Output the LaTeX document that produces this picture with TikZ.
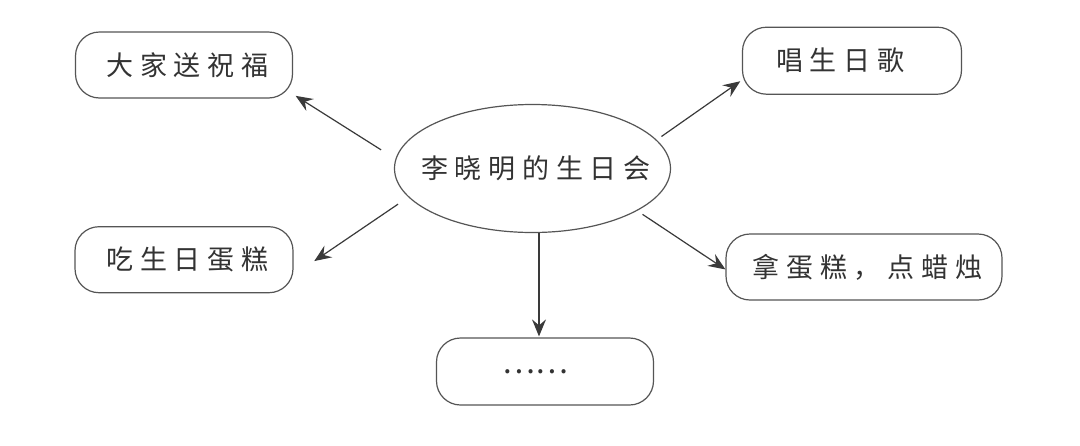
\documentclass[tikz,border=0pt]{standalone}
\usepackage{fontspec}
\newfontfamily\cjk[LetterSpace=25]{Noto Sans CJK SC}
\newfontfamily\cjkplain{Noto Sans CJK SC}
\usetikzlibrary{arrows.meta,shapes.geometric}
\definecolor{linegray}{HTML}{555555}
\definecolor{arrowgray}{HTML}{3A3A3A}
\definecolor{textgray}{HTML}{333333}
\newcommand{\lsp}[1]{\kern0.25em#1}
\begin{document}
\begin{tikzpicture}[x=1pt,y=-1pt,
  box/.style={draw=linegray, line width=1.2pt, rounded corners=24pt, inner sep=0pt,
    font=\cjk\fontsize{27}{27}\selectfont, text=textgray, minimum height=66pt},
  oval/.style={ellipse, draw=linegray, line width=1.2pt, inner xsep=-30pt, inner ysep=0pt,
    minimum width=276pt, minimum height=128pt,
    font=\cjk\fontsize{27}{27}\selectfont, text=textgray},
  conn/.style={draw=arrowgray, line width=1.2pt, -{Stealth[length=17pt,width=14pt,inset=6pt]}}]
\useasboundingbox[fill=white] (0,0) rectangle (1080,445);
\node[oval] (e) at (532.5,168.5) {\lsp{李晓明的生日会}};
\node[box, minimum width=217pt] (a) at (184,65) {\lsp{大家送祝福}};
\node[box, minimum width=219pt, minimum height=67pt] (b) at (852,60.7) {\lsp{唱生日歌}\kern30pt};
\node[box, minimum width=218pt] (c) at (184,259.7) {\lsp{吃生日蛋糕}};
\node[box, minimum width=276pt] (d) at (864,267) {\lsp{拿蛋糕，点蜡烛}};
\node[box, minimum width=217pt, minimum height=67pt, font=\cjkplain\fontsize{31}{31}\selectfont] (f) at (545,371.5) {……\kern20pt};
\draw[conn, shorten <=17pt, shorten >=3pt] (e.176) -- (a.-15.3);
\draw[conn, shorten <=5.8pt, shorten >=2pt] (e.13.4) -- (b.190.5);
\draw[conn, shorten <=12.4pt, shorten >=25pt] (e.193.7) -- (c.-8.1);
\draw[conn, shorten <=6.4pt] (e.-22.8) -- (d.181.5);
\draw[conn, shorten >=1pt] ([xshift=6.5pt]e.south) -- ([xshift=6.5pt]e.south |- f.north);
\end{tikzpicture}
\end{document}
